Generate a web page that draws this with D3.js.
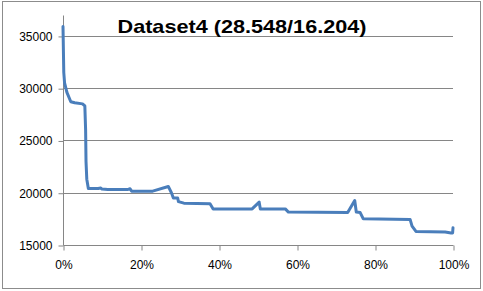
<!DOCTYPE html>
<html>
<head>
<meta charset="utf-8">
<script src="https://cdn.jsdelivr.net/npm/d3@7"></script>
<style>
  body { margin: 0; background: #fff; }
  svg { display: block; }
</style>
</head>
<body>
<svg id="chart" width="483" height="291"></svg>
<script>
// Data
const chartTitle = 'Dataset4 (28.548/16.204)';
const shares = [0.000, 0.002, 0.004, 0.010, 0.020, 0.030, 0.050, 0.056, 0.058, 0.059, 0.061, 0.065,
    0.090, 0.097, 0.100, 0.115, 0.165, 0.172, 0.176, 0.230, 0.270, 0.278, 0.283, 0.294, 0.296,
    0.310, 0.377, 0.385, 0.485, 0.503, 0.506, 0.570, 0.578, 0.730, 0.748, 0.752, 0.762, 0.770,
    0.890, 0.895, 0.905, 0.980, 0.995, 0.999, 1.000];
const costs = [35900, 31500, 30500, 29600, 28700, 28600, 28500, 28300, 26000, 23000, 21300, 20400,
    20400, 20450, 20350, 20300, 20300, 20380, 20150, 20150, 20600, 20000, 19500, 19500, 19150,
    19000, 18950, 18450, 18450, 19100, 18450, 18450, 18150, 18100, 19250, 18150, 18100, 17500,
    17450, 16800, 16300, 16250, 16150, 16150, 16650];
const yTicks = [15000, 20000, 25000, 30000, 35000];
const xTicks = [0, 0.2, 0.4, 0.6, 0.8, 1];

const svg = d3.select('#chart');
const W = 483, H = 291;
const margins = { top: 15, left: 63, right: 30, bottom: 46 };
const gridColor = '#868686';

// outer chart border
svg.append('rect')
    .attr('x', 2.5).attr('y', 1.5)
    .attr('width', 478).attr('height', 287)
    .attr('fill', '#fff')
    .attr('stroke', '#8c8c8c')
    .attr('stroke-width', 1);

const x = d3.scaleLinear().domain([0, 1]).range([margins.left, W - margins.right]);
const y = d3.scaleLinear().domain([15000, 37000]).range([H - margins.bottom, margins.top]);

// gridlines
svg.append('g').selectAll('line')
    .data(yTicks.slice(1))
    .join('line')
    .attr('x1', x(0)).attr('x2', x(1))
    .attr('y1', d => Math.round(y(d)) + 0.5)
    .attr('y2', d => Math.round(y(d)) + 0.5)
    .attr('stroke', gridColor);

const font = '"Liberation Sans", Arial, sans-serif';

// y axis
const yAxis = svg.append('g')
    .attr('transform', `translate(${x(0) + 0.5},0.5)`)
    .call(d3.axisLeft(y).tickValues(yTicks).tickFormat(d3.format('d')).tickSize(5).tickPadding(6));

// x axis
const xAxis = svg.append('g')
    .attr('transform', `translate(0.5,${Math.round(y(15000)) + 0.5})`)
    .call(d3.axisBottom(x).tickValues(xTicks).tickFormat(d3.format('.0%')).tickSize(5).tickPadding(10));

[yAxis, xAxis].forEach(ax => {
    ax.selectAll('path, line').attr('stroke', gridColor);
    ax.selectAll('text')
        .attr('fill', '#000')
        .style('font-family', font)
        .style('font-size', '12px');
});
xAxis.select('.domain').attr('d', `M${x(0)},0H${x(1)}`);
yAxis.select('.domain').attr('d', `M0,${y(15000)}V${y(37000)}`);

// series line
const points = shares.map((s, i) => [s, costs[i]]);
svg.append('path')
    .datum(points)
    .attr('d', d3.line().x(d => x(d[0])).y(d => y(d[1])))
    .attr('fill', 'none')
    .attr('stroke', '#4a7ebb')
    .attr('stroke-width', 3)
    .attr('stroke-linejoin', 'round')
    .attr('stroke-linecap', 'round');

// title
svg.append('text')
    .attr('x', 242)
    .attr('y', 33)
    .attr('text-anchor', 'middle')
    .attr('textLength', 249)
    .attr('lengthAdjust', 'spacingAndGlyphs')
    .style('font-family', font)
    .style('font-weight', 'bold')
    .style('font-size', '19px')
    .text(chartTitle);
</script>
</body>
</html>
